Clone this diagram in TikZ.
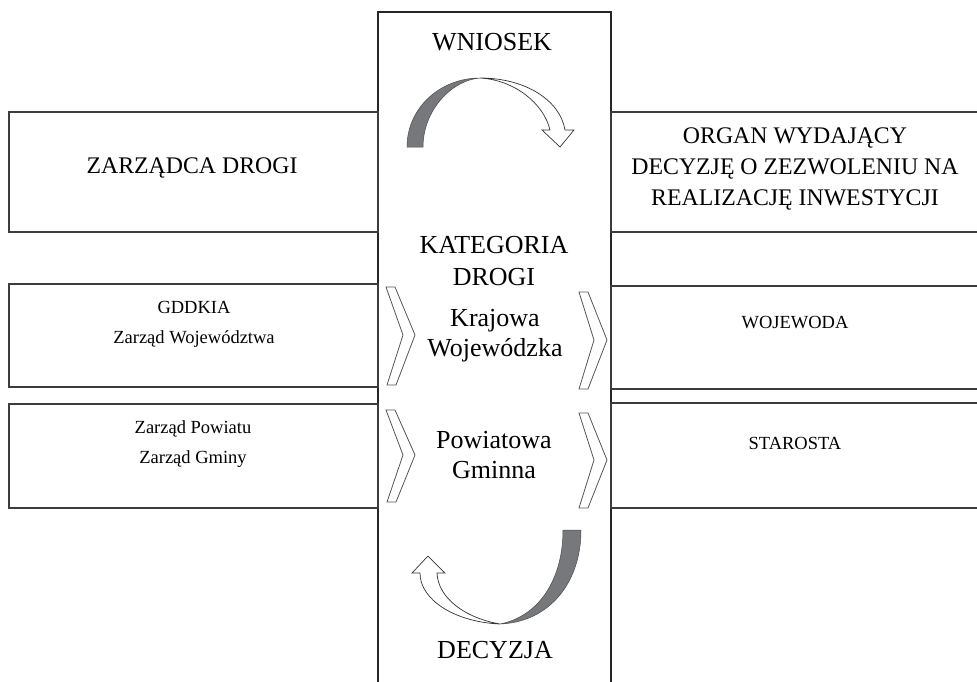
\documentclass[tikz,border=0pt]{standalone}
\usepackage{fontspec}
\setmainfont{Liberation Serif}
\definecolor{boxline}{HTML}{3C3C3C}
\definecolor{shade}{HTML}{77787B}
\definecolor{chevline}{HTML}{555555}
\begin{document}
\begin{tikzpicture}[x=1pt,y=-1pt,
  box/.style={draw=boxline,line width=2pt},
  central/.style={draw=black!85,line width=1.6pt},
  chev/.style={draw=chevline,line width=0.8pt,fill=white,line join=miter},
  arrowwhite/.style={draw=black!80,line width=0.7pt,fill=white},
  arrowgray/.style={draw=black!70,line width=0.5pt,fill=shade},
  big/.style={font=\fontsize{26}{30}\selectfont,align=center,inner sep=0pt},
  mid/.style={font=\fontsize{23.8}{31}\selectfont,align=center,inner sep=0pt},
  small/.style={font=\fontsize{18.5}{30}\selectfont,align=center,inner sep=0pt}]
\useasboundingbox (0,0) rectangle (977,681);
% central column
\draw[central] (378,700) -- (378,12) -- (611,12) -- (611,700);
% left boxes
\draw[box] (9,112) rectangle (378,232);
\draw[box] (9,284) rectangle (378,387);
\draw[box] (9,404) rectangle (378,508);
% right boxes (open to the right)
\draw[box] (995,112) -- (611,112) -- (611,232) -- (995,232);
\draw[box] (995,286) -- (611,286) -- (611,389) -- (995,389);
\draw[box] (995,403) -- (611,403) -- (611,508) -- (995,508);
% chevrons
\draw[chev] (386,287) -- (395,287) -- (415,335) -- (396,385) -- (387,385) -- (403,335) -- cycle;
\draw[chev] (579,292) -- (588,292) -- (607,340) -- (588,389) -- (579,389) -- (594,340) -- cycle;
\draw[chev] (386,410) -- (395,410) -- (415,455) -- (396,502) -- (387,502) -- (403,455) -- cycle;
\draw[chev] (579,413) -- (588,413) -- (607,460) -- (588,508) -- (579,508) -- (594,460) -- cycle;
% top curved arrow
\draw[arrowgray] (407,147) .. controls (407,108) and (440,78) .. (480,78)
   .. controls (452,80) and (423,110) .. (423,147) -- cycle;
\draw[arrowwhite] (480,78) .. controls (525,78) and (560,100) .. (565,130)
   -- (574,130) -- (560,147) -- (542,130) -- (550,130)
   .. controls (544,104) and (515,80) .. (480,78) -- cycle;
% bottom curved arrow
\draw[arrowgray] (500,624) .. controls (550,622) and (581,582) .. (581,530)
   -- (563,530) .. controls (563,578) and (540,616) .. (500,624) -- cycle;
\draw[arrowwhite] (500,624) .. controls (455,622) and (420,600) .. (420,573)
   -- (412,573) -- (428,556) -- (445,573) -- (437,573)
   .. controls (438,598) and (465,618) .. (500,624) -- cycle;
% texts
\node[big] (wniosek) at (492,42) {WNIOSEK};
\node[mid] (zarzadca) at (192,168) {ZARZĄDCA DROGI};
\node[mid] (organ) at (795,169) {ORGAN WYDAJĄCY\\DECYZJĘ O ZEZWOLENIU NA\\REALIZACJĘ INWESTYCJI};
\node[big,font=\fontsize{26}{32}\selectfont] (kategoria) at (494,261) {KATEGORIA\\DROGI};
\node[small] (gddkia) at (194,324) {GDDKIA\\Zarząd Województwa};
\node[big] (krajowa) at (495,336) {Krajowa\\Wojewódzka};
\node[small] (wojewoda) at (795,323) {WOJEWODA};
\node[small] (powiat) at (193,444) {Zarząd Powiatu\\Zarząd Gminy};
\node[big] (powiatowa) at (494,455) {Powiatowa\\Gminna};
\node[small] (starosta) at (795,443) {STAROSTA};
\node[big] (decyzja) at (495,650) {DECYZJA};
\end{tikzpicture}
\end{document}
